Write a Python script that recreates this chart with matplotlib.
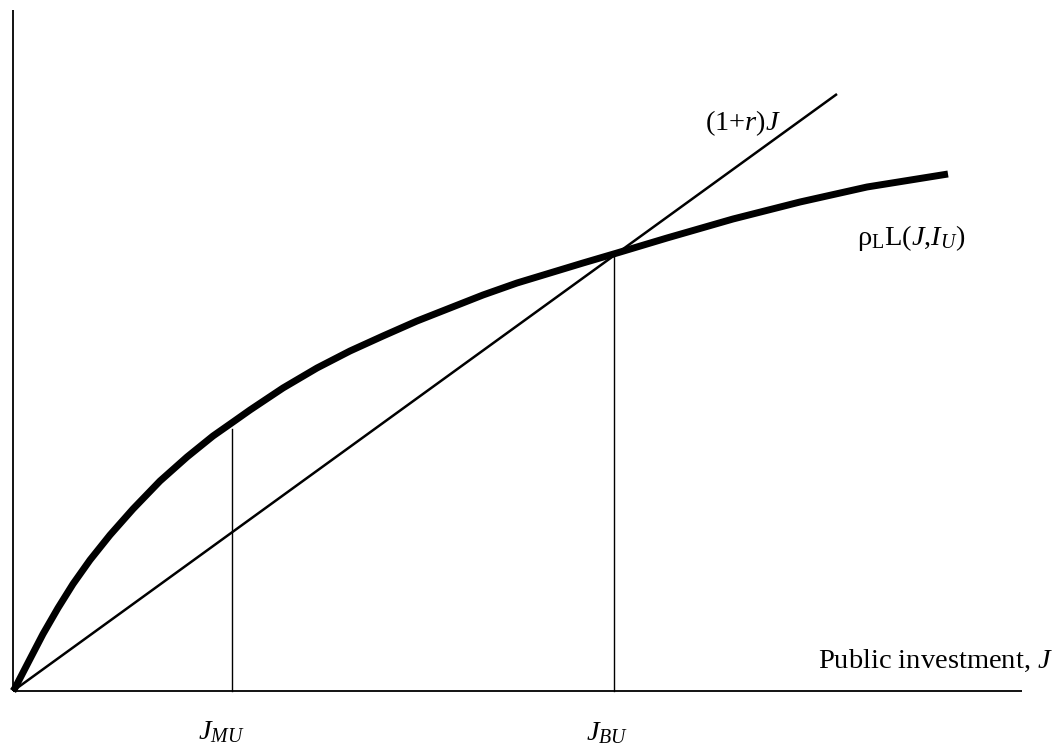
import matplotlib
matplotlib.use("Agg")
import matplotlib.pyplot as plt

plt.rcParams['font.family'] = ['Liberation Serif', 'DejaVu Serif']
plt.rcParams['mathtext.fontset'] = 'custom'
plt.rcParams['mathtext.rm'] = 'Liberation Serif'
plt.rcParams['mathtext.it'] = 'Liberation Serif:italic'

# Benefit curve rho_L L(J, I_U)
curve_J = [0.00, 0.02, 0.17, 0.30, 0.45, 0.60, 0.77, 0.97, 1.20, 1.47, 1.74, 2.00,
           2.20, 2.37, 2.70, 3.04, 3.37, 3.70, 4.04, 4.37, 4.70, 5.04, 5.37, 5.70,
           6.04, 6.54, 7.20, 7.87, 8.54, 9.35]
curve_Y = [0.00, 0.03, 0.32, 0.57, 0.83, 1.07, 1.31, 1.56, 1.82, 2.10, 2.34, 2.55,
           2.69, 2.81, 3.03, 3.23, 3.40, 3.55, 3.70, 3.83, 3.96, 4.08, 4.18, 4.28,
           4.38, 4.53, 4.72, 4.89, 5.04, 5.17]

# Cost line (1+r)J
line_J = [0.0, 8.24]
line_Y = [0.0, 5.97]

# Marked investment levels
J_MU, J_MU_top = 2.19, 2.62
J_BU, J_BU_top = 6.01, 4.36

# Axes extents
x_axis_end = 10.09
y_axis_end = 6.81

fig = plt.figure(figsize=(10.64, 7.45), dpi=100)
ax = fig.add_axes([0, 0, 1, 1])
ax.set_xlim(-0.13, 10.51)
ax.set_ylim(-0.54, 6.91)
ax.axis('off')

ax.plot([0, x_axis_end], [0, 0], color='black', lw=1.3, solid_capstyle='butt')
ax.plot([0, 0], [0, y_axis_end], color='black', lw=1.3, solid_capstyle='butt')

ax.plot(curve_J, curve_Y, color='black', lw=5.0, solid_capstyle='butt', solid_joinstyle='round')
ax.plot(line_J, line_Y, color='black', lw=1.8, solid_capstyle='butt')

ax.plot([J_MU, J_MU], [0, J_MU_top], color='black', lw=1.0)
ax.plot([J_BU, J_BU], [0, J_BU_top], color='black', lw=1.0)

fs = 20.5
ax.text(10.40, 0.30, r'Public investment, $J$', fontsize=fs, ha='right', va='center')
ax.text(6.92, 5.68, r'(1+$r$)$J$', fontsize=fs, ha='left', va='center')
ax.text(8.44, 4.53, 'ρ' + r'$_{\mathrm{L}}$L($J$,$I_U$)', fontsize=fs, ha='left', va='center')
ax.text(2.08, -0.41, r'$J_{MU}$', fontsize=fs, ha='center', va='center')
ax.text(5.94, -0.42, r'$J_{BU}$', fontsize=fs, ha='center', va='center')

fig.savefig('out.png', dpi=100)
